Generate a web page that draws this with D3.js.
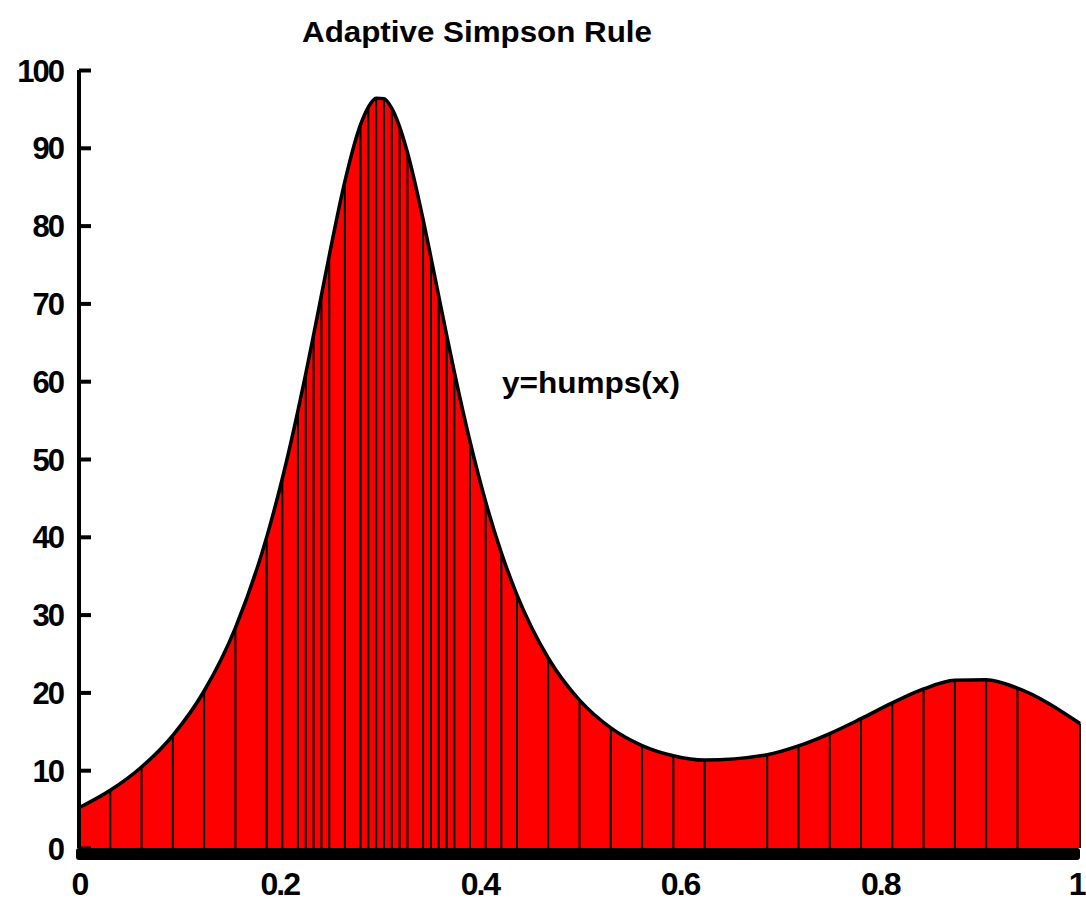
<!DOCTYPE html>
<html>
<head>
<meta charset="utf-8">
<script src="https://cdn.jsdelivr.net/npm/d3@7"></script>
<style>
  html, body { margin: 0; padding: 0; background: #fff; }
  svg { display: block; }
  text { font-family: "Liberation Sans", Arial, Helvetica, sans-serif; font-weight: bold; fill: #000; }
</style>
</head>
<body>
<svg id="chart" width="1086" height="905"></svg>
<script>
// Adaptive Simpson nodes (x) and the curve value read at each node (y)
const nodeX = [0, 0.03125, 0.0625, 0.09375, 0.125, 0.15625, 0.1875, 0.203125, 0.21875,
  0.2265625, 0.234375, 0.2421875, 0.25, 0.265625, 0.28125, 0.2890625, 0.296875,
  0.3046875, 0.3125, 0.3203125, 0.328125, 0.34375, 0.3515625, 0.359375, 0.3671875,
  0.375, 0.390625, 0.40625, 0.421875, 0.4375, 0.46875, 0.5, 0.53125, 0.5625, 0.59375,
  0.625, 0.6875, 0.71875, 0.75, 0.78125, 0.8125, 0.84375, 0.875, 0.90625, 0.9375, 1];
const nodeY = [5.18, 7.42, 10.41, 14.48, 20.18, 28.30, 39.96, 47.49, 56.22,
  60.99, 65.97, 71.06, 76.16, 85.69, 92.97, 95.24, 96.38,
  96.32, 95.06, 92.70, 89.40, 80.80, 75.93, 70.95, 65.99,
  61.17, 52.25, 44.50, 37.96, 32.53, 24.42, 19.00, 15.44, 13.17, 11.86,
  11.30, 11.99, 13.12, 14.71, 16.62, 18.65, 20.44, 21.55, 21.63, 20.55, 16.00];

const yTicks = [0, 10, 20, 30, 40, 50, 60, 70, 80, 90, 100];
const xTicks = [0, 0.2, 0.4, 0.6, 0.8, 1];
const xTickLabels = ["0", "0.2", "0.4", "0.6", "0.8", "1"];
const titleText = "Adaptive Simpson Rule";
const noteText = "y=humps(x)";

const data = nodeX.map((x, i) => ({ x: x, y: nodeY[i] }));

const svg = d3.select("#chart");
const x = d3.scaleLinear().domain([0, 1]).range([79, 1080]);
const y = d3.scaleLinear().domain([0, 100]).range([848, 70]);

// filled area under curve
const area = d3.area()
  .x(d => x(d.x)).y0(y(0)).y1(d => y(d.y))
  .curve(d3.curveMonotoneX);
svg.append("path").datum(data)
  .attr("d", area)
  .attr("fill", "#ff0000");

// vertical node lines
svg.append("g").selectAll("line").data(data).join("line")
  .attr("x1", d => x(d.x)).attr("x2", d => x(d.x))
  .attr("y1", y(0)).attr("y2", d => y(d.y))
  .attr("stroke", "#000").attr("stroke-width", 2);

// curve outline
const line = d3.line().x(d => x(d.x)).y(d => y(d.y)).curve(d3.curveMonotoneX);
svg.append("path").datum(data)
  .attr("d", line)
  .attr("fill", "none").attr("stroke", "#000").attr("stroke-width", 3.5)
  .attr("stroke-linejoin", "round");

// y axis
const yAxis = d3.axisLeft(y).tickValues(yTicks).tickSize(-12).tickPadding(16)
  .tickFormat(d3.format("d"));
const gy = svg.append("g").attr("transform", `translate(${x(0)},0)`).call(yAxis);
gy.select(".domain").attr("stroke", "#000").attr("stroke-width", 4)
  .attr("d", `M0,${y(100)}V${y(0)}`);
gy.selectAll(".tick line").attr("stroke", "#000").attr("stroke-width", 4);
gy.selectAll(".tick text")
  .style("font-size", "31px").style("font-weight", "bold")
  .attr("letter-spacing", "-2").attr("dy", "0.36em");

// thick x axis bar
svg.append("rect")
  .attr("x", x(0) - 3).attr("y", y(0))
  .attr("width", x(1) - x(0) + 3).attr("height", 12)
  .attr("rx", 3).attr("fill", "#000");

// x axis labels
const xAxis = d3.axisBottom(x).tickValues(xTicks).tickSize(0).tickPadding(0)
  .tickFormat((d, i) => xTickLabels[i]);
const gx = svg.append("g").attr("transform", `translate(0,${y(0)})`).call(xAxis);
gx.select(".domain").remove();
gx.selectAll(".tick text")
  .attr("y", 47).attr("dy", 0)
  .style("font-size", "32px").style("font-weight", "bold")
  .attr("letter-spacing", "-2");
gx.selectAll(".tick text").filter((d, i) => i === xTicks.length - 1)
  .attr("text-anchor", "end").attr("x", 4);

// title
svg.append("text")
  .attr("x", 477).attr("y", 42)
  .attr("text-anchor", "middle")
  .attr("textLength", 350).attr("lengthAdjust", "spacingAndGlyphs")
  .style("font-size", "30px")
  .text(titleText);

// annotation
svg.append("text")
  .attr("x", x(0.4225)).attr("y", y(60) + 12)
  .attr("textLength", 178).attr("lengthAdjust", "spacingAndGlyphs")
  .style("font-size", "30px")
  .text(noteText);
</script>
</body>
</html>
